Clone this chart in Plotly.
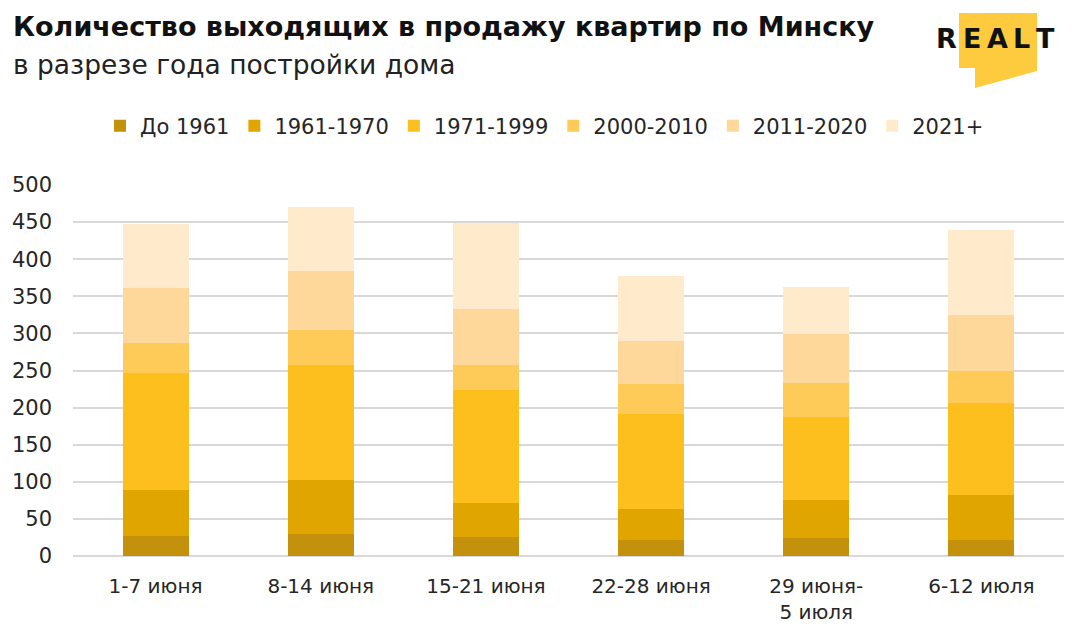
import plotly.graph_objects as go

# ---- data ----
categories = ["1-7 июня", "8-14 июня", "15-21 июня", "22-28 июня", "29 июня-<br>5 июля", "6-12 июля"]
series_names = ["До 1961", "1961-1970", "1971-1999", "2000-2010", "2011-2020", "2021+"]
do_1961 = [27, 29, 25, 22, 24, 22]
y1961_1970 = [62, 74, 47, 42, 51, 60]
y1971_1999 = [158, 154, 152, 128, 112, 124]
y2000_2010 = [40, 47, 34, 40, 46, 43]
y2011_2020 = [74, 80, 75, 58, 66, 76]
y2021_plus = [87, 86, 116, 87, 63, 114]
series_values = [do_1961, y1961_1970, y1971_1999, y2000_2010, y2011_2020, y2021_plus]
colors = ["#C4910C", "#E1A500", "#FDBF1E", "#FECA58", "#FED89A", "#FFEBCC"]

W, H = 1080, 637
ML, MR, MT, MB = 73, 16, 185, 81
PW, PH = W - ML - MR, H - MT - MB

FONT = "DejaVu Sans"
TXT = "#262626"

fig = go.Figure()
for name, vals, col in zip(series_names, series_values, colors):
    fig.add_trace(go.Bar(
        name=name, x=categories, y=vals,
        marker=dict(color=col, line=dict(width=0)),
    ))


def px(x):
    return (x - ML) / PW


def py(y):
    return (H - MB - y) / PH


# logo shape
pts = [(959, 13), (1037, 13), (1037, 71), (975, 88), (975, 68), (959, 68)]
path = "M " + " L ".join(f"{px(a):.5f},{py(b):.5f}" for a, b in pts) + " Z"
shapes = [dict(type="path", xref="paper", yref="paper", path=path,
               fillcolor="#FECB3F", line=dict(width=0), layer="above")]

annotations = [
    dict(text="<b>Количество выходящих в продажу квартир по Минску</b>",
         xref="paper", yref="paper", x=px(11), y=py(27), xanchor="left", yanchor="middle",
         showarrow=False, font=dict(family=FONT, size=27, color="#111111")),
    dict(text="в разрезе года постройки дома",
         xref="paper", yref="paper", x=px(11), y=py(65), xanchor="left", yanchor="middle",
         showarrow=False, font=dict(family=FONT, size=26.5, color="#222222")),
]
logo_letters = ["R", "E", "A", "L", "T"]
logo_x = [946, 972, 997, 1021, 1045]
for ch, lx in zip(logo_letters, logo_x):
    annotations.append(dict(text=f"<b>{ch}</b>", xref="paper", yref="paper",
                            x=px(lx), y=py(38), xanchor="center", yanchor="middle",
                            showarrow=False,
                            font=dict(family=FONT, size=27, color="#111111")))

fig.update_layout(
    width=W, height=H,
    margin=dict(l=ML, r=MR, t=MT, b=MB),
    barmode="stack", bargap=0.6,
    plot_bgcolor="white", paper_bgcolor="white",
    font=dict(family=FONT, size=21, color=TXT),
    showlegend=True,
    legend=dict(orientation="h", xref="container", yref="container",
                x=100 / W, y=1 - 126 / H, xanchor="left", yanchor="middle",
                font=dict(family=FONT, size=21, color=TXT),
                traceorder="normal", itemclick=False, itemwidth=30),
    xaxis=dict(showgrid=False, showline=False, ticks="", ticklabelstandoff=16,
               tickfont=dict(family=FONT, size=20, color=TXT)),
    yaxis=dict(range=[0, 500], dtick=50, tick0=0, showgrid=True,
               gridcolor="#D8D8D8", gridwidth=1.5, zeroline=True,
               zerolinecolor="#D8D8D8", zerolinewidth=1.5, showline=False,
               ticks="", ticklabelstandoff=20,
               tickfont=dict(family=FONT, size=21, color=TXT)),
    shapes=shapes,
    annotations=annotations,
)

fig.write_html("out.html")
